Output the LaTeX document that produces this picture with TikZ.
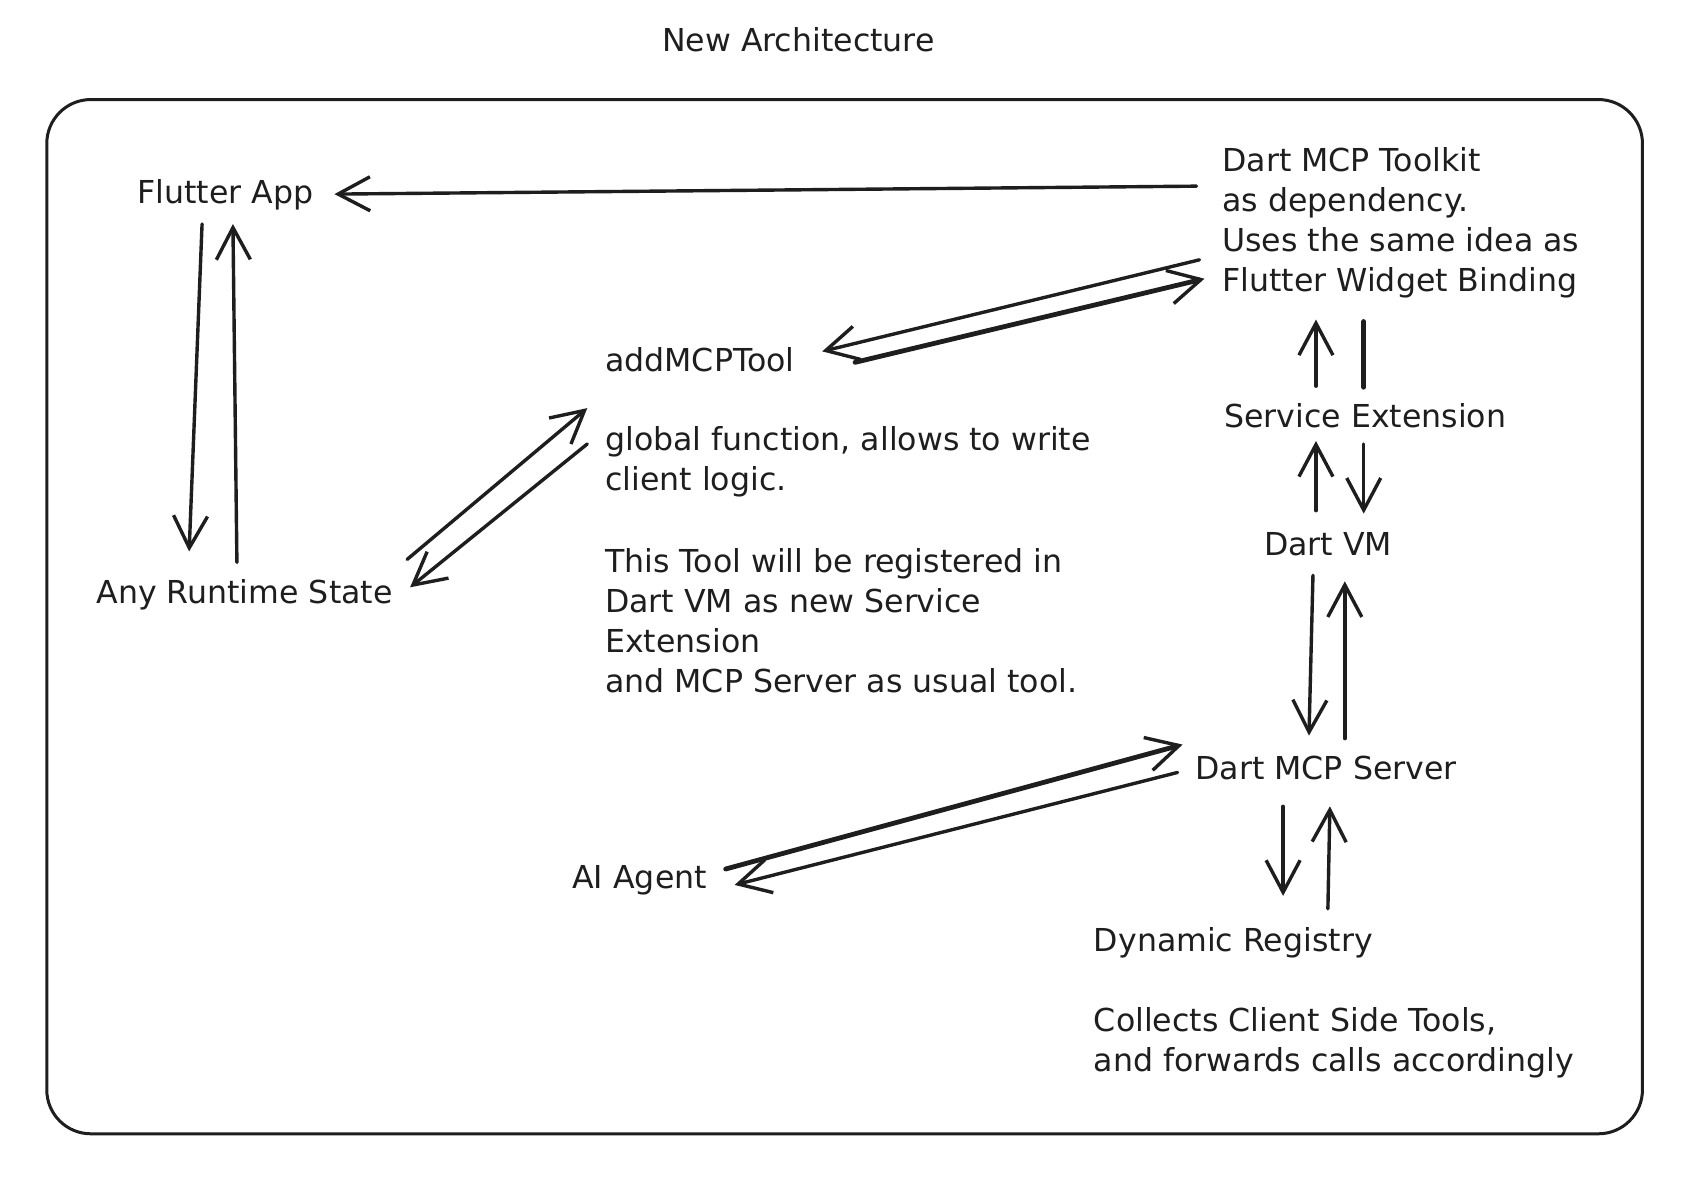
\documentclass[tikz,border=0pt]{standalone}
\usepackage{fontspec}
\setmainfont{DejaVu Sans}
\usetikzlibrary{arrows.meta,calc}
\definecolor{ink}{HTML}{1E1E1E}
\begin{document}
\begin{tikzpicture}[x=0.4977pt,y=-0.4977pt,
  every node/.style={inner sep=0pt,outer sep=0pt,text=ink,font=\fontsize{15.8pt}{20pt}\selectfont},
  lbl/.style={anchor=west,align=left},
  conn/.style={draw=ink,line width=1.7pt,line cap=round,line join=round,
    -{Straight Barb[length=16pt,width=17pt,line width=1.7pt]}},
  thickconn/.style={conn,line width=2.4pt},
  plainline/.style={draw=ink,line width=2.4pt,line cap=round}]
\useasboundingbox (0,0) rectangle (1703.8,1191.5);
\fill[white] (0,0) rectangle (1703.8,1191.5);
\draw[ink,line width=1.5pt,rounded corners=22pt] (47,100) rectangle (1650,1139);

\node (title) at (802,40) {New Architecture};
\node[lbl] (fa) at (138,196) {Flutter App};
\node[lbl] (rs) at (97,598) {Any Runtime State};
\node[lbl] (add) at (608,361) {addMCPTool};
\node[lbl] (gf) at (608,464) {global function, allows to write\\client logic.};
\node[lbl] (tt) at (608,624) {This Tool will be registered in\\Dart VM as new Service\\Extension\\and MCP Server as usual tool.};
\node[lbl] (kit) at (1228,224) {Dart MCP Toolkit\\as dependency.\\Uses the same idea as\\Flutter Widget Binding};
\node[lbl] (se) at (1230,418) {Service Extension};
\node[lbl] (vm) at (1270,547) {Dart VM};
\node[lbl] (ms) at (1201,772) {Dart MCP Server};
\node[lbl] (ai) at (575,884) {AI Agent};
\node[lbl] (dr) at (1099,947) {Dynamic Registry};
\node[lbl] (co) at (1099,1048) {Collects Client Side Tools,\\and forwards calls accordingly};

% Toolkit -> Flutter App
\draw[conn] ($(kit.west)+(-26,-37)$) -- ($(fa.west)+(198,-1)$);
% Flutter App <-> Runtime State
\draw[conn] ($(fa.west)+(65,29)$) -- ($(rs.west)+(93,-44)$);
\draw[conn] ($(rs.west)+(141,-33)$) -- ($(fa.west)+(96,29)$);
% Runtime State <-> addMCPTool
\draw[conn] ($(rs.west)+(312,-36)$) -- ($(add.west)+(-18,49)$);
\draw[conn] ($(add.west)+(-18,85)$) -- ($(rs.west)+(315,-8)$);
% Toolkit <-> addMCPTool
\draw[conn] ($(kit.west)+(-23,37)$) -- ($(add.west)+(218,-8)$);
\draw[thickconn] ($(add.west)+(251,3)$) -- ($(kit.west)+(-18,56)$);
% Service Extension <-> Toolkit
\draw[conn] ($(se.west)+(92,-30)$) -- ($(kit.west)+(94,97)$);
\draw[plainline] ($(se.west)+(140,-29)$) -- ($(kit.west)+(142,99)$);
% Dart VM <-> Service Extension
\draw[conn] ($(vm.west)+(52,-34)$) -- ($(se.west)+(92,25)$);
\draw[conn] ($(se.west)+(140,28)$) -- ($(vm.west)+(100,-31)$);
% Dart VM <-> MCP Server
\draw[conn] ($(vm.west)+(49,31)$) -- ($(ms.west)+(114,-33)$);
\draw[conn] ($(ms.west)+(150,-30)$) -- ($(vm.west)+(81,37)$);
% AI Agent <-> MCP Server
\draw[thickconn] ($(ai.west)+(154,-11)$) -- ($(ms.west)+(-13,-24)$);
\draw[conn] ($(ms.west)+(-18,4)$) -- ($(ai.west)+(163,5)$);
% MCP Server <-> Registry
\draw[conn] ($(ms.west)+(88,38)$) -- ($(dr.west)+(190,-47)$);
\draw[conn] ($(dr.west)+(235,-34)$) -- ($(ms.west)+(135,38)$);
\end{tikzpicture}
\end{document}
